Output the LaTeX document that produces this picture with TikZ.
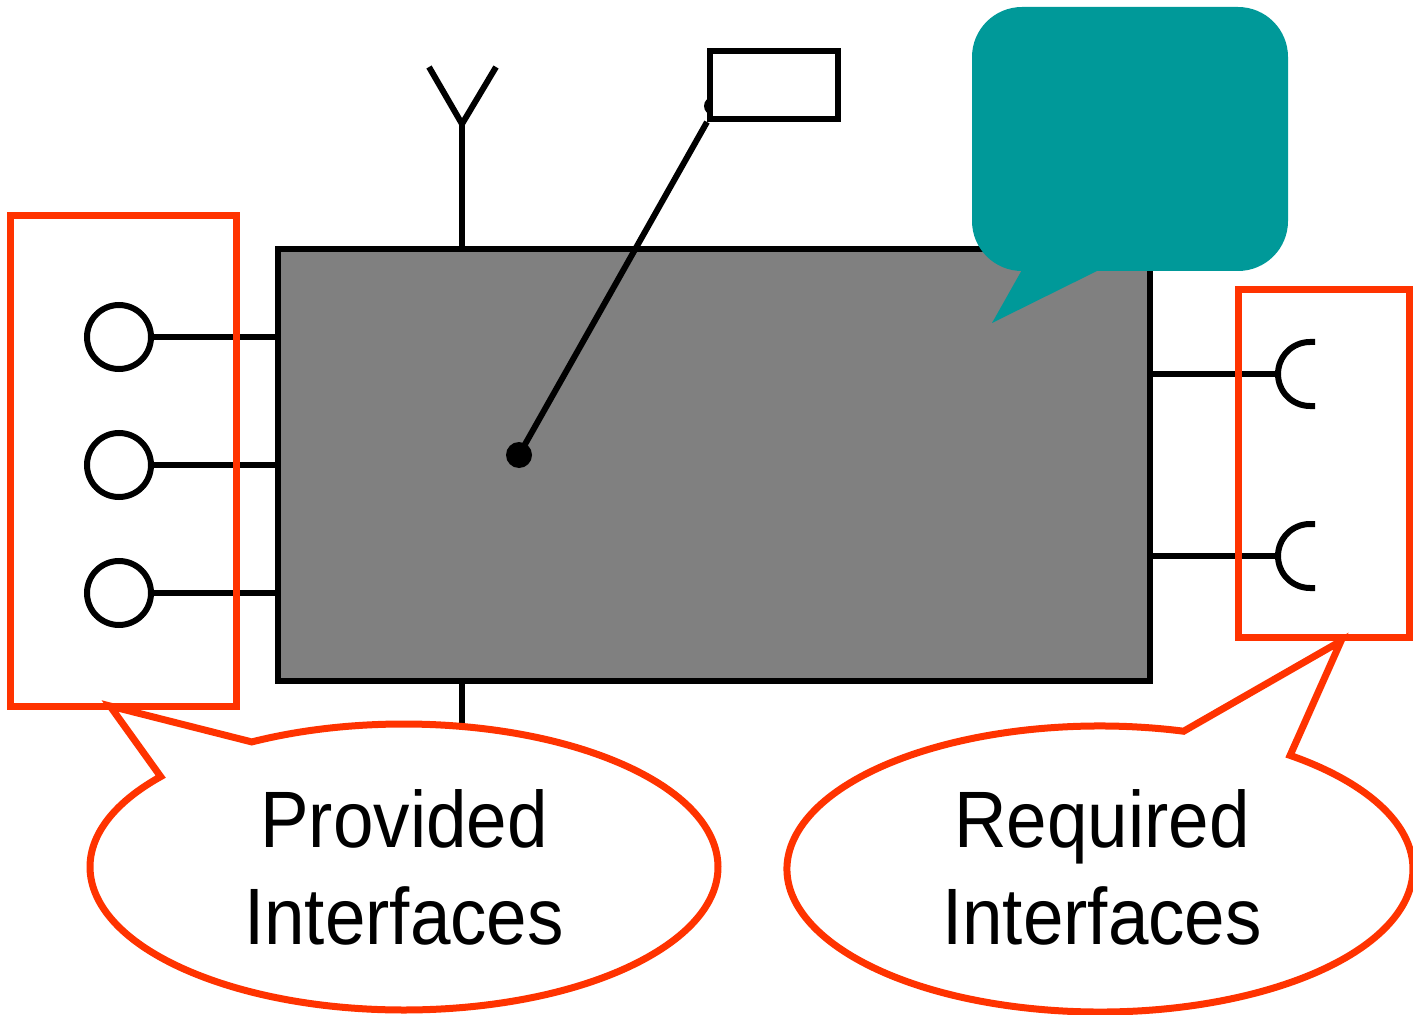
\documentclass[tikz,border=0pt]{standalone}
\usepackage{fontspec}
\setmainfont{Liberation Sans}
\newfontfamily\calloutfont[FakeStretch=0.91]{Liberation Sans}
\definecolor{compgray}{RGB}{128,128,128}
\definecolor{calred}{RGB}{255,51,0}
\definecolor{noteteal}{RGB}{0,153,153}
\begin{document}
\begin{tikzpicture}[x=0.5pt,y=0.5pt,
  blk/.style={line width=3pt},
  comp/.style={draw, line width=3pt, fill=compgray, rectangle, minimum width=436pt, minimum height=216pt, inner sep=0pt},
  lolli/.style={draw, line width=3pt, fill=white, circle, minimum size=32pt, inner sep=0pt},
  tagbox/.style={draw, line width=3pt, fill=white, rectangle, minimum width=64pt, minimum height=34pt, inner sep=0pt},
  dotn/.style={circle, fill=black, minimum size=13pt, inner sep=0pt},
  grp/.style={draw=calred, line width=3.5pt, rectangle, inner sep=0pt},
  callout/.style={draw=calred, line width=3.5pt, fill=white, line join=miter},
  ctext/.style={font=\calloutfont\fontsize{40}{48.5}\selectfont, align=center, inner sep=0pt}
]
\useasboundingbox (0,0) rectangle (1413,1014);

% component
\node[comp] (comp) at (714,549) {};

% Y-shaped port on top and stem below
\coordinate (yv) at (462,890);
\draw[blk] (yv |- comp.north) -- (yv);
\draw[blk] (429,947) -- (yv) -- (496,947);
\draw[blk] (yv |- comp.south) -- ++(0,-60);

% tag with leader
\fill (713,908) circle (4.5pt);
\node[tagbox] (tag) at (774,929) {};
\node[dotn] (dot) at (519,559) {};
\draw[blk] (dot.center) -- (tag.south west);

% teal note callout
\fill[noteteal, rounded corners=25pt] (972,743) rectangle (1288,1007);
\fill[noteteal] (1023,746) -- (992,691) -- (1103,746) -- cycle;

% provided interfaces (lollipops)
\node[lolli] (p1) at (119,677) {};
\node[lolli] (p2) at (119,549) {};
\node[lolli] (p3) at (119,421) {};
\draw[blk] (p1.east) -- (p1.east -| comp.west);
\draw[blk] (p2.east) -- (p2.east -| comp.west);
\draw[blk] (p3.east) -- (p3.east -| comp.west);

% required interfaces (sockets)
\coordinate (s1) at (1278,640);
\coordinate (s2) at (1278,458);
\draw[blk] (comp.east |- s1) -- (s1);
\draw[blk] (comp.east |- s2) -- (s2);
\draw[blk] ([shift={(37,32)}]s1) -- ++(-5,0) arc[start angle=90, end angle=270, radius=16pt] -- ++(5,0);
\draw[blk] ([shift={(37,32)}]s2) -- ++(-5,0) arc[start angle=90, end angle=270, radius=16pt] -- ++(5,0);

% red group frames
\node[grp, minimum width=112.75pt, minimum height=245.25pt] (pgrp) at (123.25,553.25) {};
\node[grp, minimum width=85.25pt, minimum height=174pt] (rgrp) at (1323.75,550.5) {};

% callouts
\coordinate (pc) at (404,147);
\coordinate (ptip) at (110,308);
\draw[callout] ([shift={(140.8:157pt and 71.5pt)}]pc) arc[start angle=140.8, end angle=479, x radius=157pt, y radius=71.5pt] -- (ptip) -- cycle;
\node[ctext] (ptext) at (404,146.5) {Provided\\Interfaces};

\coordinate (rc) at (1100,145);
\coordinate (rtip) at (1341,373);
\draw[callout] ([shift={(74.5:156.5pt and 71.5pt)}]rc) arc[start angle=74.5, end angle=412.6, x radius=156.5pt, y radius=71.5pt] -- (rtip) -- cycle;
\node[ctext] (rtext) at (1102,146.5) {Required\\Interfaces};
\end{tikzpicture}
\end{document}
